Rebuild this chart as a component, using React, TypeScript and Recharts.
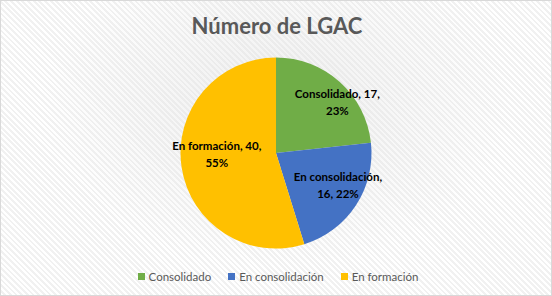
import React from "react";
import { PieChart, Pie, Cell, Legend } from "recharts";

const categories = ["Consolidado", "En consolidación", "En formación"];
const values = [17, 16, 40];
const percentLabels = ["23%", "22%", "55%"];
const colors = ["#70AD47", "#4472C4", "#FFC000"];
const title = "Número de LGAC";

const data = categories.map((name, i) => ({ name, value: values[i], pct: percentLabels[i] }));

// label placement: radius fraction of outer radius and angle shift (deg), per slice (Excel best-fit look)
const labelRadius = [0.83, 0.735, 0.62];
const labelAngleShift = [-8.8, 5.3, -6.7];
const labelLines = (i: number) => {
  const d = data[i];
  if (i === 1) return [`${d.name},`, `${d.value}, ${d.pct}`];
  return [`${d.name}, ${d.value},`, d.pct];
};

const RAD = Math.PI / 180;
const renderLabel = (props: any) => {
  const { cx, cy, midAngle, outerRadius, index } = props;
  const r = outerRadius * labelRadius[index];
  const a = midAngle + labelAngleShift[index];
  const x = cx + r * Math.cos(-a * RAD);
  const y = cy + r * Math.sin(-a * RAD);
  const lines = labelLines(index);
  return (
    <text
      x={x}
      y={y}
      textAnchor="middle"
      fill="#000"
      fontFamily="Lato, 'Open Sans', sans-serif"
      fontWeight={700}
      fontSize={11.5}
    >
      {lines.map((l, k) => (
        <tspan key={k} x={x} y={y + (k === 0 ? -4.5 : 12.5)}>
          {l}
        </tspan>
      ))}
    </text>
  );
};

const renderLegend = () => (
  <div
    style={{
      display: "flex",
      justifyContent: "center",
      gap: 17,
      fontFamily: "Lato, 'Open Sans', sans-serif",
      fontSize: 11.5,
      color: "#595959",
      paddingLeft: 4,
    }}
  >
    {categories.map((c, i) => (
      <div key={c} style={{ display: "flex", alignItems: "center" }}>
        <span
          style={{ width: 7, height: 7, background: colors[i], display: "inline-block", marginRight: 4 }}
        />
        <span>{c}</span>
      </div>
    ))}
  </div>
);

export default function App() {
  return (
    <div
      style={{
        position: "absolute",
        left: 0,
        top: 0,
        width: 550,
        height: 294,
        border: "1px solid #d9d9d9",
        background:
          "radial-gradient(ellipse at 50% 35%, rgba(225,225,225,0.55) 0%, rgba(255,255,255,0) 60%), repeating-linear-gradient(45deg, #ffffff 0px, #ffffff 2px, #f1f1f1 2px, #f1f1f1 4px)",
      }}
    >
      <div
        style={{
          position: "absolute",
          left: 0,
          top: 11,
          width: 552,
          textAlign: "center",
          fontFamily: "Lato, 'Open Sans', sans-serif",
          fontWeight: 700,
          fontSize: 22,
          color: "#595959",
        }}
      >
        {title}
      </div>
      <div style={{ position: "absolute", left: -1, top: -1 }}>
        <PieChart width={552} height={296} margin={{ top: 0, right: 0, bottom: 0, left: 0 }}>
          <Pie
            data={data}
            dataKey="value"
            nameKey="name"
            cx={276}
            cy={153}
            outerRadius={95.5}
            startAngle={90}
            endAngle={-270}
            stroke="none"
            label={renderLabel}
            labelLine={false}
            isAnimationActive={false}
          >
            {data.map((d, i) => (
              <Cell key={d.name} fill={colors[i]} />
            ))}
          </Pie>
          <Legend
            content={renderLegend}
            wrapperStyle={{ left: 0, width: 552, top: 270 }}
          />
        </PieChart>
      </div>
    </div>
  );
}
